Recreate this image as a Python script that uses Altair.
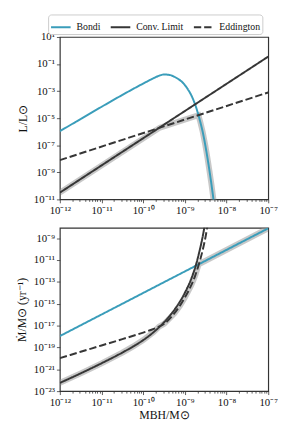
import altair as alt
import pandas as pd
import numpy as np

# ---------------- data (log10 values) ----------------
series_names = ["Bondi", "Conv. Limit", "Eddington"]

# top panel: L / Lsun
bondi_top_logm = [-12, -11.5, -11, -10.5, -10.2, -10, -9.8, -9.65, -9.5, -9.35, -9.2, -9.05,
                  -8.96, -8.81, -8.69, -8.63, -8.57, -8.46, -8.36, -8.28]
bondi_top_logl = [-5.96, -5.06, -4.16, -3.28, -2.77, -2.44, -2.12, -1.90, -1.77, -1.82, -2.03, -2.38,
                  -2.72, -3.55, -4.6, -5.28, -6.05, -7.9, -9.95, -11.8]
conv_top_logm = [-12, -7]
conv_top_logl = [-10.5, -0.45]
edd_top_logm = [-12, -7]
edd_top_logl = [-8.1, -3.1]
band_top_logm = [-12, -9.6, -8.675, -8.63, -8.57, -8.51, -8.46, -8.41, -8.36, -8.28]
band_top_logl = [-10.5, -5.7, -4.775, -5.28, -6.05, -7.0, -7.9, -8.9, -9.95, -11.8]

# bottom panel: Mdot / Msun (yr^-1)
bondi_bot_logm = [-12, -7]
bondi_bot_logmd = [-17.96, -8.1]
conv_bot_logm = [-12, -11.5, -11, -10.5, -10.25, -10, -9.75, -9.5, -9.25, -9.0, -8.85,
                 -8.75, -8.65, -8.57, -8.5]
conv_bot_logmd = [-22.25, -21.37, -20.45, -19.47, -18.93, -18.33, -17.6, -16.7, -15.55, -14.0,
                  -12.75, -11.65, -10.2, -8.8, -7.3]
edd_bot_logm = [-12, -11.5, -11, -10.5, -10, -9.8, -9.65, -9.5, -9.25, -9.0, -8.85,
                -8.75, -8.65, -8.57, -8.5, -8.44]
edd_bot_logmd = [-19.98, -19.40, -18.82, -18.24, -17.64, -17.38, -17.15, -16.85, -15.87, -14.43,
                 -13.33, -12.4, -11.2, -10.05, -8.8, -7.4]
band_bot_logm = [-12, -11.5, -11, -10.5, -10.25, -10, -9.75, -9.62, -9.5, -9.25, -9.12, -9.0,
                 -8.92, -8.85, -8.8, -8.75, -8.71, -8.67, -7]
band_bot_logmd = [-22.25, -21.37, -20.45, -19.47, -18.93, -18.33, -17.6, -17.1, -16.85, -15.87,
                  -15.2, -14.43, -13.85, -13.33, -12.88, -12.4, -11.9, -11.4, -8.1]

# tick labels
x_tick_exps = [-12, -11, -10, -9, -8, -7]
x_tick_labels = ["10⁻¹²", "10⁻¹¹", "10⁻¹⁰", "10⁻⁹", "10⁻⁸", "10⁻⁷"]
y_top_exps = [1, -1, -3, -5, -7, -9, -11]
y_top_labels = ["10¹", "10⁻¹", "10⁻³", "10⁻⁵", "10⁻⁷", "10⁻⁹", "10⁻¹¹"]
y_bot_exps = [-9, -11, -13, -15, -17, -19, -21, -23]
y_bot_labels = ["10⁻⁹", "10⁻¹¹", "10⁻¹³", "10⁻¹⁵", "10⁻¹⁷", "10⁻¹⁹", "10⁻²¹", "10⁻²³"]

# ---------------- styling ----------------
TEAL = "#3a9dba"
DARK = "#363636"
FONT = "Liberation Serif"


def frame(name, logm, logv):
    return pd.DataFrame({"series": name, "order": range(len(logm)),
                         "M": [10.0 ** v for v in logm], "V": [10.0 ** v for v in logv]})


def label_expr(exps, labels):
    e = "round(log(datum.value)/LN10)"
    arr = "[" + ",".join("'" + s + "'" for s in labels) + "]"
    ex = "[" + ",".join(str(v) for v in exps) + "]"
    return (f"abs(log(datum.value)/LN10 - {e}) < 0.001 && indexof({ex}, {e}) >= 0 "
            f"? {arr}[indexof({ex}, {e})] : ''")


x_major = [10.0 ** e for e in x_tick_exps]
x_minor = [k * 10.0 ** e for e in x_tick_exps[:-1] for k in range(2, 10)]
x_vals = sorted(x_major + x_minor)

major_test = "abs(log(datum.value)/LN10 - round(log(datum.value)/LN10)) < 0.001"


def x_axis(title):
    return alt.Axis(values=x_vals, labelExpr=label_expr(x_tick_exps, x_tick_labels),
                    tickSize={"condition": {"test": major_test, "value": 3.5}, "value": 2},
                    grid=False, domain=False, labelFlush=False, labelPadding=2,
                    title=title, titlePadding=2)


def y_axis(title, exps, labels):
    return alt.Axis(values=[10.0 ** e for e in exps], labelExpr=label_expr(exps, labels),
                    tickSize=3.5, grid=False, domain=False, title=title, labelPadding=2,
                    titlePadding=4)


color_scale = alt.Scale(domain=series_names, range=[TEAL, DARK, DARK])
dash_scale = alt.Scale(domain=series_names, range=[[1, 0], [1, 0], [7.5, 3]])

legend = alt.Legend(title=None, orient="none", legendX=-12, legendY=-23, direction="horizontal",
                    symbolType="stroke", symbolSize=400, symbolStrokeWidth=2,
                    labelFont=FONT, labelFontSize=10, labelColor="#111", labelOffset=5,
                    columnPadding=6, padding=2, strokeColor="#cccccc", cornerRadius=3,
                    fillColor="white")


def panel(lines_df, band_df, xdom, ydom, ytitle, ylabels, yexps, xtitle, height, show_legend):
    x = alt.X("M:Q", scale=alt.Scale(type="log", domain=xdom), axis=x_axis(xtitle))
    y = alt.Y("V:Q", scale=alt.Scale(type="log", domain=ydom), axis=y_axis(ytitle, yexps, ylabels))
    band = alt.Chart(band_df).mark_line(color="#9a9a9a", strokeWidth=6, opacity=0.55,
                                        clip=True).encode(x=x, y=y, order="order:Q")
    lines = alt.Chart(lines_df).mark_line(strokeWidth=2, clip=True, interpolate="monotone").encode(
        x=x, y=y, order="order:Q",
        color=alt.Color("series:N", scale=color_scale, legend=legend if show_legend else None),
        strokeDash=alt.StrokeDash("series:N", scale=dash_scale, legend=legend if show_legend else None),
        detail="series:N",
    )
    return alt.layer(band, lines).properties(width=213, height=height)


top_lines = pd.concat([frame("Bondi", bondi_top_logm, bondi_top_logl),
                       frame("Conv. Limit", conv_top_logm, conv_top_logl),
                       frame("Eddington", edd_top_logm, edd_top_logl)])
top_band = frame("band", band_top_logm, band_top_logl)
bot_lines = pd.concat([frame("Bondi", bondi_bot_logm, bondi_bot_logmd),
                       frame("Conv. Limit", conv_bot_logm, conv_bot_logmd),
                       frame("Eddington", edd_bot_logm, edd_bot_logmd)])
bot_band = frame("band", band_bot_logm, band_bot_logmd)

top = panel(top_lines, top_band, [1e-12, 1e-7], [1e-11, 1e1], "L/L⊙", y_top_labels, y_top_exps,
            None, 166, True)
bottom = panel(bot_lines, bot_band, [1e-12, 1e-7], [1e-23, 10 ** -8.05], "Ṁ/M⊙ (yr⁻¹)",
               y_bot_labels, y_bot_exps, "MBH/M⊙", 167, False)

chart = alt.vconcat(top, bottom, spacing=10).resolve_scale(
    color="independent", strokeDash="independent", x="independent", y="independent"
).properties(
    padding={"left": 7, "top": 0, "right": 0, "bottom": 0}
).configure_view(
    stroke="#333333", strokeWidth=1.2
).configure_axis(
    labelFont=FONT, labelFontSize=11, labelColor="#111111", titleFont=FONT, titleFontSize=12,
    titleFontWeight="normal", titleColor="#111111", tickColor="#333333", tickWidth=0.8
)

chart.save("out.html", embed_options={"renderer": "svg", "actions": False})
